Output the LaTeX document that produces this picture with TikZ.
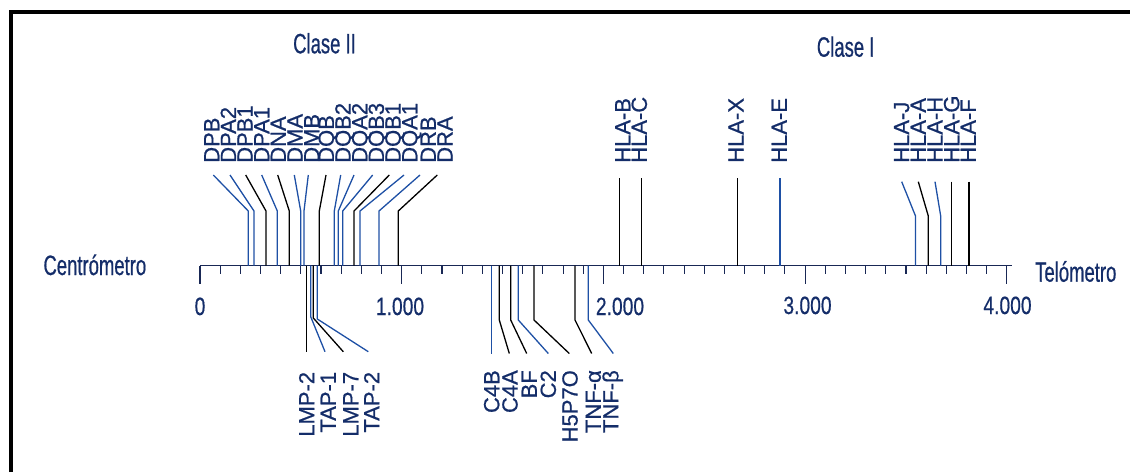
\documentclass[tikz,border=0pt]{standalone}
\usepackage{fontspec}
\setmainfont{Liberation Sans}
\newfontfamily\labfont[FakeBold=0.7]{Liberation Sans}
\newfontfamily\condfont[FakeStretch=0.66,FakeBold=0.6]{Liberation Sans}
\newfontfamily\numfont[FakeStretch=0.77,FakeBold=0.5]{Liberation Sans}
\definecolor{txt}{RGB}{20,45,105}
\definecolor{lineblue}{RGB}{30,80,165}
\tikzset{
  lab/.style={font=\fontsize{22}{22}\labfont, text=txt, inner sep=0pt, rotate=90},
  toplab/.style={lab, anchor=west},
  botlab/.style={lab, anchor=east},
  side/.style={font=\fontsize{28}{28}\condfont, text=txt, inner sep=0pt, anchor=base west},
  num/.style={font=\fontsize{25}{25}\numfont, text=txt, inner sep=0pt, anchor=base},
  leader/.style={line width=1.3pt},
  lb/.style={draw=lineblue},
  lk/.style={draw=black},
  axisline/.style={line width=1.5pt, draw={rgb,255:red,25;green,40;blue,85}},
  tick/.style={line width=1.1pt, draw={rgb,255:red,25;green,40;blue,85}},
}
\begin{document}
\begin{tikzpicture}[x=1pt,y=-1pt]
\useasboundingbox (0,0) rectangle (1130,472);
% frame (top and left edges)
\draw[line width=4pt, line join=miter] (10.8,472) -- (10.8,12) -- (1130,12);

% axis
\coordinate (ax0) at (200,265.5);
\coordinate (axE) at (1012,265.5);
\draw[axisline] (ax0) -- (axE);
\foreach \k in {0,...,40}{
  \pgfmathsetmacro{\len}{mod(\k,10)==0 ? 18 : 8}
  \draw[tick] (200+20.17*\k,265.5) -- ++(0,\len);
}

% side labels
\node[side] (cen) at (43.3,275) {Centrómetro};
\node[side] (tel) at (1035,281.7) {Telómetro};
\node[side] (c2) at (293,53.3) {Clase II};
\node[side] (c1) at (816.7,56.7) {Clase I};

% scale numbers
\node[num] (n0) at (200,315) {0};
\node[num] (n1) at (400,315) {1.000};
\node[num] (n2) at (620,315) {2.000};
\node[num] (n3) at (807.5,314) {3.000};
\node[num] (n4) at (1007.5,314) {4.000};

% Class II upper genes
\foreach \name/\lx/\tx/\bx/\col [count=\i] in {
  DPB/211.7/213.3/248.3/lb, DPA2/228.3/230/254/lb, DPB1/245/245.7/266/lk,
  DPA1/261.7/261.7/277.3/lb, DNA/278.3/277.7/289.3/lk, DMA/295/294.3/300.7/lb,
  DMB/311.7/308.3/304/lb, DQB/328.3/326/319.3/lk, DQB2/345/340.7/334.3/lb,
  DQA2/361.7/354/338.3/lb, DQB3/378.3/372.7/342.7/lb, DQB1/395/389.3/354/lk,
  DQA1/411.7/404/360/lb, DRB/428.3/420/379/lb, DRA/445/437.3/398.3/lk}{
  \node[toplab] (u\i) at (\lx,163) {\name};
  \coordinate (us\i) at (\tx,175);
  \coordinate (uk\i) at (\bx,211);
  \coordinate (ua\i) at (\bx,265.5);
  \draw[leader,\col] (us\i) -- (uk\i) -- (ua\i);
}

% Class I straight genes
\foreach \name/\lx/\bx/\ty/\col [count=\i] in {
  HLA-B/622.7/619.3/178/lk, HLA-C/639.3/641.7/178/lk, HLA-X/736/737.3/178/lk,
  HLA-E/779.3/780/178/lb, HLA-G/951.7/951.7/181.7/lk, HLA-F/968.3/969/181.7/lk}{
  \node[toplab] (h\i) at (\lx,163) {\name};
  \coordinate (hs\i) at (\bx,\ty);
  \coordinate (ha\i) at (\bx,265.5);
  \draw[leader,\col] (hs\i) -- (ha\i);
}
% Class I bent genes
\foreach \name/\lx/\bx/\col [count=\i] in {
  HLA-J/901.7/915.5/lb, HLA-A/918.3/928.3/lk, HLA-H/935/940.7/lb}{
  \node[toplab] (g\i) at (\lx,163) {\name};
  \coordinate (gs\i) at (\lx,181.7);
  \coordinate (gk\i) at (\bx,216);
  \coordinate (ga\i) at (\bx,265.5);
  \draw[leader,\col] (gs\i) -- (gk\i) -- (ga\i);
}

% lower genes, group 1
\foreach \name/\lx/\ax/\ky/\ex/\col [count=\i] in {
  LMP-2/306.7/306.7/317/306.7/lk, TAP-1/328.3/310.7/316.7/325/lb,
  LMP-7/350.7/313.3/318/343.3/lk, TAP-2/371.7/317.3/319/368.3/lb}{
  \node[botlab] (l\i) at (\lx,371.7) {\name};
  \coordinate (la\i) at (\ax,265.5);
  \coordinate (lk\i) at (\ax,\ky);
  \coordinate (le\i) at (\ex,351.7);
  \draw[leader,\col] (la\i) -- (lk\i) -- (le\i);
}

% lower genes, group 2
\foreach \name/\lx/\ax/\ex/\col [count=\i] in {
  C4B/491.7/491.7/491.7/lb, C4A/510/499.3/509.3/lk, BF/529.3/510.7/526.7/lk,
  C2/548.3/518.3/548.3/lb, H5P7O/570/534/569.3/lk, TNF-α/593.3/575/591.7/lk,
  TNF-β/612.7/588.3/613.3/lb}{
  \node[botlab] (m\i) at (\lx,370) {\name};
  \coordinate (ma\i) at (\ax,265.5);
  \coordinate (mk\i) at (\ax,320);
  \coordinate (me\i) at (\ex,353.5);
  \draw[leader,\col] (ma\i) -- (mk\i) -- (me\i);
}
\end{tikzpicture}
\end{document}
